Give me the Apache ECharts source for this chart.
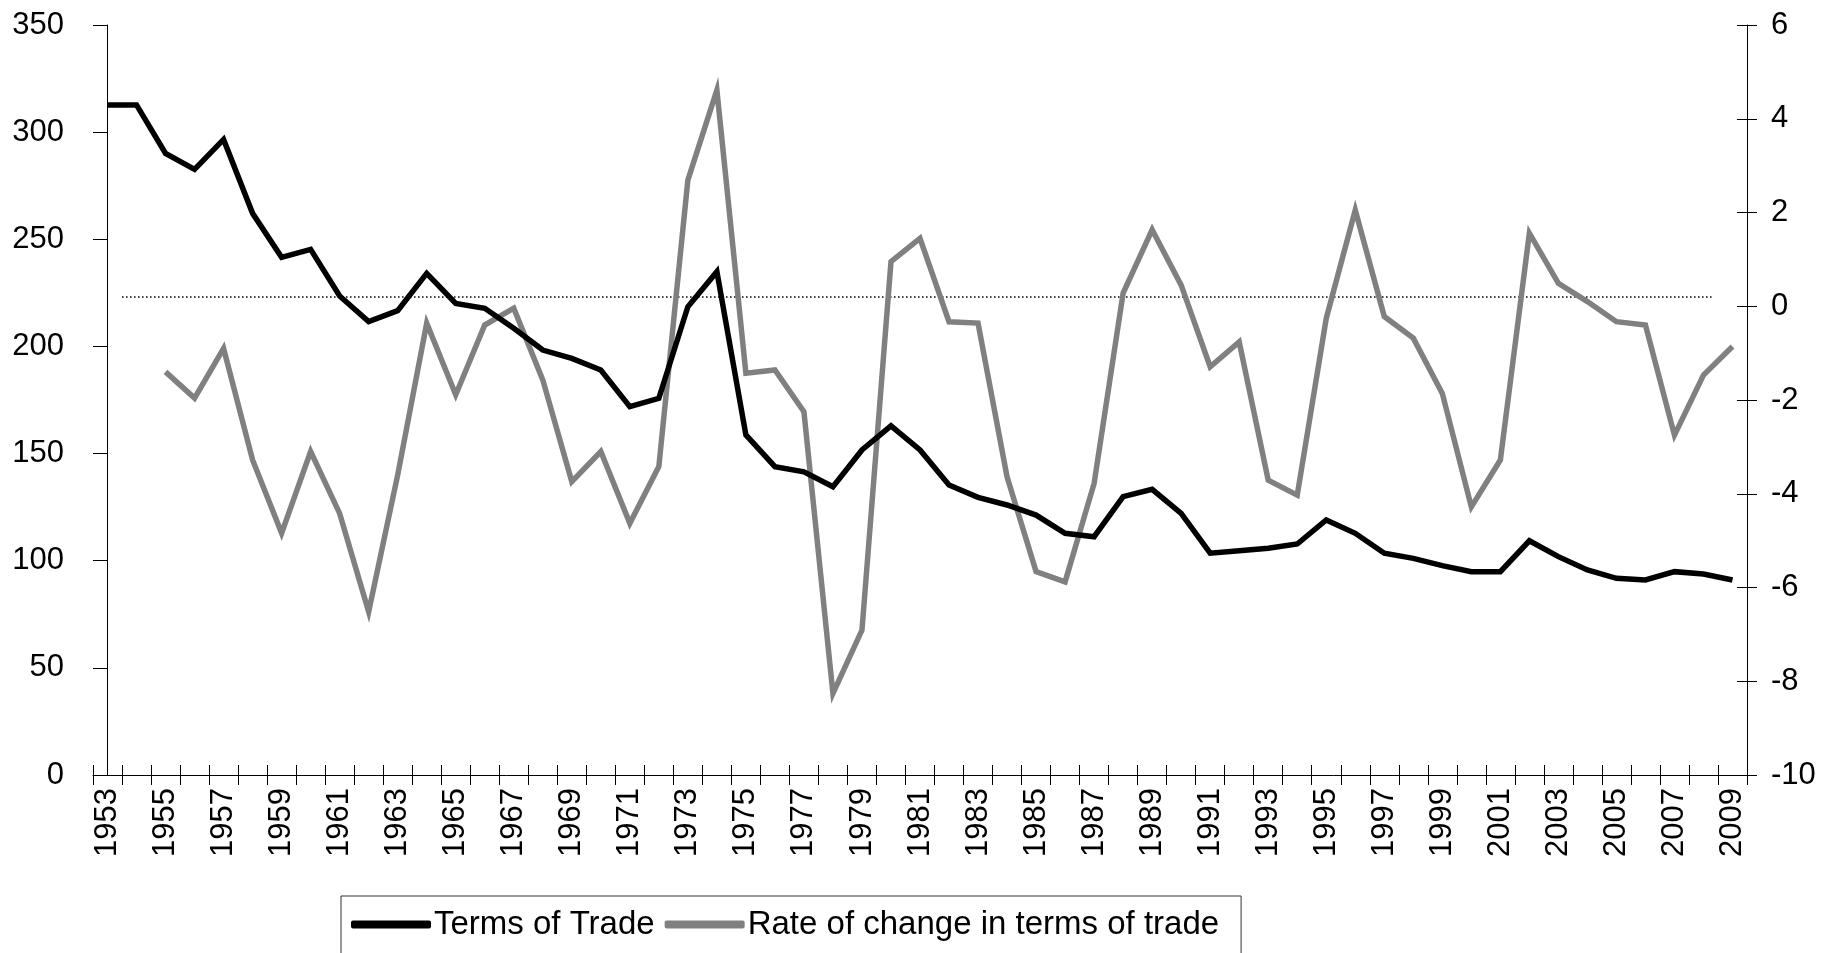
<!DOCTYPE html>
<html>
<head>
<meta charset="utf-8">
<script src="https://cdn.jsdelivr.net/npm/echarts@6/dist/echarts.min.js"></script>
<style>
  html, body { margin: 0; padding: 0; background: #fff; }
  #chart { width: 1825px; height: 953px; }
</style>
</head>
<body>
<div id="chart"></div>
<script>
// categories
const years = [
  "1953", "1954", "1955", "1956", "1957", "1958", "1959", "1960", "1961", "1962",
  "1963", "1964", "1965", "1966", "1967", "1968", "1969", "1970", "1971", "1972",
  "1973", "1974", "1975", "1976", "1977", "1978", "1979", "1980", "1981", "1982",
  "1983", "1984", "1985", "1986", "1987", "1988", "1989", "1990", "1991", "1992",
  "1993", "1994", "1995", "1996", "1997", "1998", "1999", "2000", "2001", "2002",
  "2003", "2004", "2005", "2006", "2007", "2008", "2009"
];

// left axis series
const termsOfTrade = [
  312.7, 312.7, 290.1, 282.6, 296.6, 262.1, 241.6, 245.3, 223.5, 211.6,
  216.7, 234.1, 220.1, 217.8, 208.5, 198.3, 194.4, 189.0, 171.9, 175.8,
  218.5, 234.9, 158.7, 143.9, 141.5, 134.5, 151.7, 162.9, 151.7, 135.3,
  129.6, 126.0, 121.3, 112.8, 111.2, 129.9, 133.3, 122.1, 103.5, 104.7,
  105.8, 107.8, 119.0, 112.8, 103.5, 101.1, 97.7, 94.9, 94.9, 109.3,
  101.9, 95.7, 91.8, 91.0, 94.9, 93.8, 91.0
];

// right axis series
const rateOfChange = [
  null, null, -1.40, -1.96, -0.90, -3.28, -4.84, -3.10, -4.42, -6.52,
  -3.60, -0.36, -1.89, -0.40, -0.04, -1.57, -3.74, -3.10, -4.63, -3.42,
  2.69, 4.61, -1.43, -1.36, -2.25, -8.26, -6.91, 0.95, 1.45, -0.33,
  -0.36, -3.64, -5.66, -5.88, -3.78, 0.28, 1.63, 0.45, -1.29, -0.76,
  -3.71, -4.03, -0.26, 2.05, -0.22, -0.68, -1.86, -4.28, -3.28, 1.56,
  0.49, 0.10, -0.33, -0.40, -2.75, -1.47, -0.86
];

// dotted reference line (right axis value, in category-index units)
const refLevel = 0.2;
const refStart = 0.5;
const refEnd = 55.3;

const FONT = "'Liberation Sans', Arial, sans-serif";
const labelStyle = { color: "#000", fontSize: 31, fontFamily: FONT };

const chart = echarts.init(document.getElementById("chart"));

chart.setOption({
  backgroundColor: "#fff",
  animation: false,
  grid: { left: 93, right: 78, top: 25, bottom: 178, containLabel: false },
  legend: {
    left: 341,
    top: 896,
    padding: [12, 22, 24, 10],
    itemGap: 10,
    itemWidth: 80,
    itemHeight: 8,
    icon: "roundRect",
    borderColor: "#333",
    borderWidth: 1,
    textStyle: { color: "#000", fontSize: 33, fontFamily: FONT, padding: [0, 0, 0, -2] },
    data: ["Terms of Trade", "Rate of change in terms of trade"]
  },
  xAxis: [
    {
      type: "category",
      position: "bottom",
      data: years,
      boundaryGap: true,
      axisLine: { onZero: false, lineStyle: { color: "#000", width: 1 } },
      axisTick: { show: true, interval: 0, length: 10, lineStyle: { color: "#000" } },
      axisLabel: { ...labelStyle, interval: 1, rotate: 90, margin: 13 },
      splitLine: { show: false }
    },
    {
      type: "category",
      position: "bottom",
      data: years,
      boundaryGap: true,
      axisLine: { show: false, onZero: false },
      axisTick: { show: true, inside: true, interval: 0, length: 10, lineStyle: { color: "#000" } },
      axisLabel: { show: false },
      splitLine: { show: false }
    },
    {
      type: "value",
      position: "bottom",
      min: -0.5,
      max: 56.5,
      show: false
    }
  ],
  yAxis: [
    {
      type: "value",
      position: "left",
      min: 0,
      max: 350,
      interval: 50,
      axisLine: { show: true, lineStyle: { color: "#000", width: 1 } },
      axisTick: { show: true, length: 10, lineStyle: { color: "#000" } },
      axisLabel: { ...labelStyle, margin: 29 },
      splitLine: { show: false }
    },
    {
      type: "value",
      position: "right",
      min: -10,
      max: 6,
      interval: 2,
      axisLine: { show: true, lineStyle: { color: "#000", width: 1 } },
      axisTick: { show: true, length: 10, lineStyle: { color: "#000" } },
      axisLabel: { ...labelStyle, margin: 24 },
      splitLine: { show: false }
    },
    {
      type: "value",
      position: "left",
      min: 0,
      max: 350,
      interval: 50,
      axisLine: { show: false },
      axisTick: { show: true, inside: true, length: 10, lineStyle: { color: "#000" } },
      axisLabel: { show: false },
      splitLine: { show: false }
    },
    {
      type: "value",
      position: "right",
      min: -10,
      max: 6,
      interval: 2,
      axisLine: { show: false },
      axisTick: { show: true, inside: true, length: 10, lineStyle: { color: "#000" } },
      axisLabel: { show: false },
      splitLine: { show: false }
    }
  ],
  series: [
    {
      name: "Terms of Trade",
      type: "line",
      xAxisIndex: 0,
      yAxisIndex: 0,
      data: termsOfTrade,
      symbol: "none",
      color: "#000",
      lineStyle: { color: "#000", width: 5.5, join: "miter" },
      z: 3
    },
    {
      name: "Rate of change in terms of trade",
      type: "line",
      xAxisIndex: 0,
      yAxisIndex: 1,
      data: rateOfChange,
      symbol: "none",
      color: "#808080",
      lineStyle: { color: "#808080", width: 5.5, join: "miter" },
      z: 2
    },
    {
      name: "reference",
      type: "line",
      xAxisIndex: 2,
      yAxisIndex: 1,
      data: [[refStart, refLevel], [refEnd, refLevel]],
      symbol: "none",
      lineStyle: { color: "#000", width: 1.5, type: [1.5, 2.5] },
      z: 1
    }
  ]
});
</script>
</body>
</html>
